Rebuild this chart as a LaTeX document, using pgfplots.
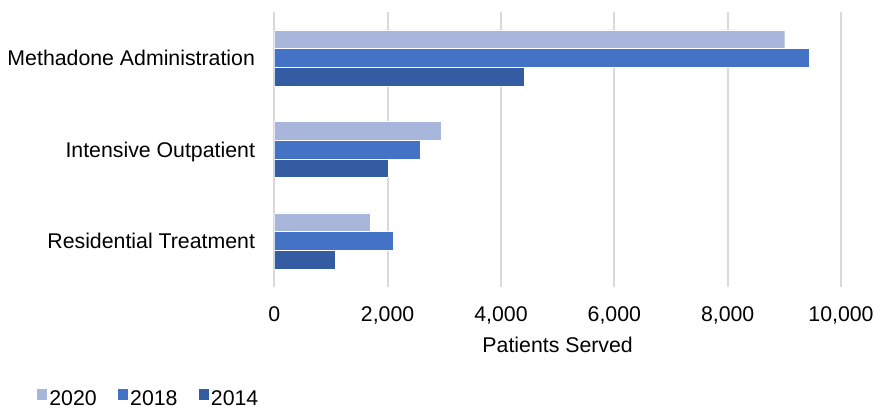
\documentclass[border=0pt]{standalone}
\usepackage{pgfplots}
\pgfplotsset{compat=1.18}
\usepackage{fontspec}
\setmainfont{Liberation Sans}
\newcommand\fs{\fontsize{10.65}{12.8}\selectfont}
\definecolor{cA}{HTML}{A8B6DB}
\definecolor{cB}{HTML}{4472C4}
\definecolor{cC}{HTML}{345CA2}
\definecolor{grid}{HTML}{D9D9D9}
\begin{document}
\begin{tikzpicture}
\begin{axis}[
  at={(0,0)}, anchor=south west,
  scale only axis, width=283.35pt, height=137.2pt,
  xbar, bar width=0.2045,
  xmin=0, xmax=10000, ymin=-0.5, ymax=2.5,
  xtick={0,2000,4000,6000,8000,10000},
  ytick={0,1,2},
  yticklabels={Residential Treatment, Intensive Outpatient, Methadone Administration},
  xmajorgrids, ymajorgrids=false,
  major grid style={draw=grid, line width=1pt},
  axis line style={draw=none},
  tick style={draw=none},
  /pgf/number format/.cd, 1000 sep={,}, assume math mode=true, /pgfplots/.cd,
  scaled x ticks=false,
  xticklabel style={font=\fs, anchor=base, inner sep=0pt, yshift=-17.5pt},
  yticklabel style={font=\fs, anchor=base east, inner sep=0pt, xshift=-5.2pt, yshift=-3.8pt},
  xlabel={Patients Served},
  xlabel style={font=\fs, at={(axis description cs:0.5,-0.240)}, anchor=base, inner sep=0pt},
  legend columns=3,
  legend cell align=left,
  legend image code/.code={\fill[#1] (0pt,-0.3pt) rectangle (5.5pt,5.8pt);},
  legend style={draw=none, fill=none, inner sep=0pt, outer sep=0pt,
    font=\fs, column sep=1pt,
    /tikz/every even column/.append style={column sep=10pt},
    nodes={inner sep=0pt},
    at={(axis description cs:-0.4205,-0.4440)}, anchor=south west},
]
\addplot[xbar, bar shift=0.2045, fill=cA, draw=white, line width=0.2pt] coordinates {(1689,0) (2947,1) (9007,2)};
\addplot[xbar, bar shift=0, fill=cB, draw=white, line width=0.2pt] coordinates {(2100,0) (2583,1) (9441,2)};
\addplot[xbar, bar shift=-0.2045, fill=cC, draw=white, line width=0.2pt] coordinates {(1071,0) (2012,1) (4406,2)};
\legend{2020,2018,2014}
\end{axis}
\pgfresetboundingbox
\path[use as bounding box] (-137.15pt,-62.15pt) rectangle (299.85pt,143.35pt);
\end{tikzpicture}
\end{document}
